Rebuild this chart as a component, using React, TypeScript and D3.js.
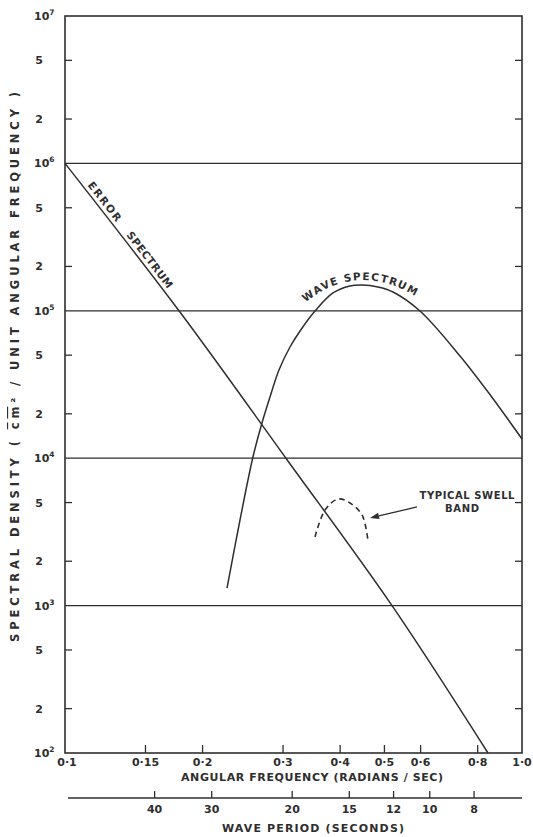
import React from "react";
import * as d3 from "d3";

const W = 533;
const H = 837;

const freqTickValues = [0.1, 0.15, 0.2, 0.3, 0.4, 0.5, 0.6, 0.8, 1.0];
const freqTickLabels = ["0·1", "0·15", "0·2", "0·3", "0·4", "0·5", "0·6", "0·8", "1·0"];
const periodTickValues = [40, 30, 20, 15, 12, 10, 8];
const decadeExponents = [2, 3, 4, 5, 6, 7];
const minorMultipliers = [2, 5];

const errorFreq = [0.1, 0.1776, 0.3044, 0.5195, 0.8425];
const errorDensity = [1e6, 1e5, 1e4, 1e3, 1e2];

const waveFreq = [0.2262, 0.2415, 0.2578, 0.2698, 0.2809, 0.2939, 0.3107, 0.3268, 0.3524, 0.3859, 0.4202, 0.4466, 0.484, 0.5221, 0.5981, 0.7317, 0.8554, 1.0];
const waveDensity = [1316, 3808, 10190, 17340, 26020, 39670, 56800, 72950, 99680, 132060, 147300, 149620, 145030, 134120, 99680, 49370, 26420, 13500];

const swellFreq = [0.3524, 0.3706, 0.3958, 0.4204, 0.4467, 0.4603];
const swellDensity = [2920, 4450, 5285, 4966, 4120, 2743];

const waveLabelFreq = [0.3318, 0.3801, 0.4467, 0.5273, 0.6042];
const waveLabelDensity = [111200, 145000, 161800, 147300, 118400];

const swellArrowFrom = [0.589, 4667];
const swellArrowTo = [0.465, 3928];
const swellLabel1 = [0.7579, 5285];
const swellLabel2 = [0.7392, 4315];

const INK = "#2e2e2e";
const FONT = "'DejaVu Sans', sans-serif";

export default function App() {
  const x = d3.scaleLog().domain([0.1, 1]).range([65, 522]);
  const y = d3.scaleLog().domain([1e2, 1e7]).range([753, 16]);
  const [x0, x1] = x.range();
  const [yb, yt] = y.range();

  const smooth = d3
    .line<[number, number]>()
    .x((d) => x(d[0]))
    .y((d) => y(d[1]))
    .curve(d3.curveCatmullRom.alpha(0.5));

  const errorPts = errorFreq.map((f, i) => [f, errorDensity[i]] as [number, number]);
  const wavePts = waveFreq.map((f, i) => [f, waveDensity[i]] as [number, number]);
  const swellPts = swellFreq.map((f, i) => [f, swellDensity[i]] as [number, number]);
  const waveLabelPts = waveLabelFreq.map((f, i) => [f, waveLabelDensity[i]] as [number, number]);

  const minorTicks: number[] = [];
  decadeExponents.slice(0, -1).forEach((e) => minorMultipliers.forEach((m) => minorTicks.push(m * Math.pow(10, e))));

  const periodY = 798;

  const ax1 = x(swellArrowFrom[0]), ay1 = y(swellArrowFrom[1]);
  const ax2 = x(swellArrowTo[0]), ay2 = y(swellArrowTo[1]);
  const ang = Math.atan2(ay2 - ay1, ax2 - ax1);
  const hl = 9, hw = 3.2;
  const bx = ax2 - hl * Math.cos(ang), by = ay2 - hl * Math.sin(ang);
  const head = `M${ax2},${ay2}L${bx + hw * Math.sin(ang)},${by - hw * Math.cos(ang)}L${bx - hw * Math.sin(ang)},${by + hw * Math.cos(ang)}Z`;

  return (
    <svg width={W} height={H} style={{ position: "absolute", left: 0, top: 0, background: "#fff" }} fontFamily={FONT}>
      <defs>
        <path id="errPath" d={smooth(errorPts) || ""} />
        <path id="waveLabelPath" d={smooth(waveLabelPts) || ""} />
      </defs>

      <rect x={x0} y={yt} width={x1 - x0} height={yb - yt} fill="none" stroke={INK} strokeWidth={1.6} />

      {decadeExponents.slice(1, -1).map((e) => (
        <line key={e} x1={x0} x2={x1} y1={y(Math.pow(10, e))} y2={y(Math.pow(10, e))} stroke={INK} strokeWidth={1.3} />
      ))}

      {minorTicks.map((v) => (
        <g key={v}>
          <line x1={x0} x2={x0 + 7} y1={y(v)} y2={y(v)} stroke={INK} strokeWidth={1.3} />
          <line x1={x1} x2={x1 - 7} y1={y(v)} y2={y(v)} stroke={INK} strokeWidth={1.3} />
        </g>
      ))}

      {decadeExponents.map((e) => (
        <text key={"d" + e} x={34} y={y(Math.pow(10, e)) + 4} fontSize={11} fontWeight="bold" fill={INK}>
          10
          <tspan dy={-5} fontSize={7.5}>{e}</tspan>
        </text>
      ))}
      {minorTicks.map((v) => (
        <text key={"m" + v} x={39} y={y(v) + 4} fontSize={11} fontWeight="bold" fill={INK} textAnchor="middle">
          {String(Math.round(v / Math.pow(10, Math.floor(Math.log10(v) + 1e-9))))}
        </text>
      ))}

      <text
        transform={`translate(19, 367) rotate(-90)`}
        fontSize={11.5}
        fontWeight="bold"
        fill={INK}
        textAnchor="middle"
        textLength={550}
        lengthAdjust="spacing"
      >
        SPECTRAL DENSITY ( <tspan textDecoration="overline">cm</tspan>² / UNIT ANGULAR FREQUENCY )
      </text>

      {freqTickValues.slice(1, -1).map((v) => (
        <line key={v} x1={x(v)} x2={x(v)} y1={yb} y2={yb - 8} stroke={INK} strokeWidth={1.3} />
      ))}
      {freqTickValues.map((v, i) => (
        <text key={"fl" + v} x={x(v) + (i === 0 ? 2 : 0)} y={yb + 13} fontSize={11} fontWeight="bold" fill={INK} textAnchor="middle">
          {freqTickLabels[i]}
        </text>
      ))}
      <text x={312} y={781} fontSize={11} fontWeight="bold" fill={INK} textAnchor="middle" textLength={262} lengthAdjust="spacing">
        ANGULAR FREQUENCY (RADIANS / SEC)
      </text>

      <line x1={68} x2={x1} y1={periodY} y2={periodY} stroke={INK} strokeWidth={1.4} />
      {periodTickValues.map((t) => (
        <g key={t}>
          <line x1={x((2 * Math.PI) / t)} x2={x((2 * Math.PI) / t)} y1={periodY} y2={periodY - 7} stroke={INK} strokeWidth={1.3} />
          <text x={x((2 * Math.PI) / t)} y={periodY + 15} fontSize={11} fontWeight="bold" fill={INK} textAnchor="middle">
            {t}
          </text>
        </g>
      ))}
      <text x={313} y={832} fontSize={11} fontWeight="bold" fill={INK} textAnchor="middle" textLength={182} lengthAdjust="spacing">
        WAVE PERIOD (SECONDS)
      </text>

      <path d={smooth(errorPts) || ""} fill="none" stroke={INK} strokeWidth={1.5} />
      <text fontSize={10.5} fontWeight="bold" fill={INK} dy={-4}>
        <textPath href="#errPath" startOffset={31} textLength={47} lengthAdjust="spacing">ERROR</textPath>
      </text>
      <text fontSize={10.5} fontWeight="bold" fill={INK} dy={-4}>
        <textPath href="#errPath" startOffset={94} textLength={68} lengthAdjust="spacing">SPECTRUM</textPath>
      </text>

      <path d={smooth(wavePts) || ""} fill="none" stroke={INK} strokeWidth={1.5} />
      <text fontSize={10.5} fontWeight="bold" fill={INK}>
        <textPath href="#waveLabelPath" startOffset={3} textLength={118} lengthAdjust="spacing">WAVE SPECTRUM</textPath>
      </text>

      <path d={smooth(swellPts) || ""} fill="none" stroke={INK} strokeWidth={1.6} strokeDasharray="5.5,4" />
      <line x1={ax1} y1={ay1} x2={bx} y2={by} stroke={INK} strokeWidth={1.3} />
      <path d={head} fill={INK} />
      <text x={x(swellLabel1[0])} y={y(swellLabel1[1])} fontSize={10} fontWeight="bold" fill={INK} textAnchor="middle" textLength={95} lengthAdjust="spacing">
        TYPICAL SWELL
      </text>
      <text x={x(swellLabel2[0])} y={y(swellLabel2[1])} fontSize={10} fontWeight="bold" fill={INK} textAnchor="middle" textLength={34} lengthAdjust="spacing">
        BAND
      </text>
    </svg>
  );
}
